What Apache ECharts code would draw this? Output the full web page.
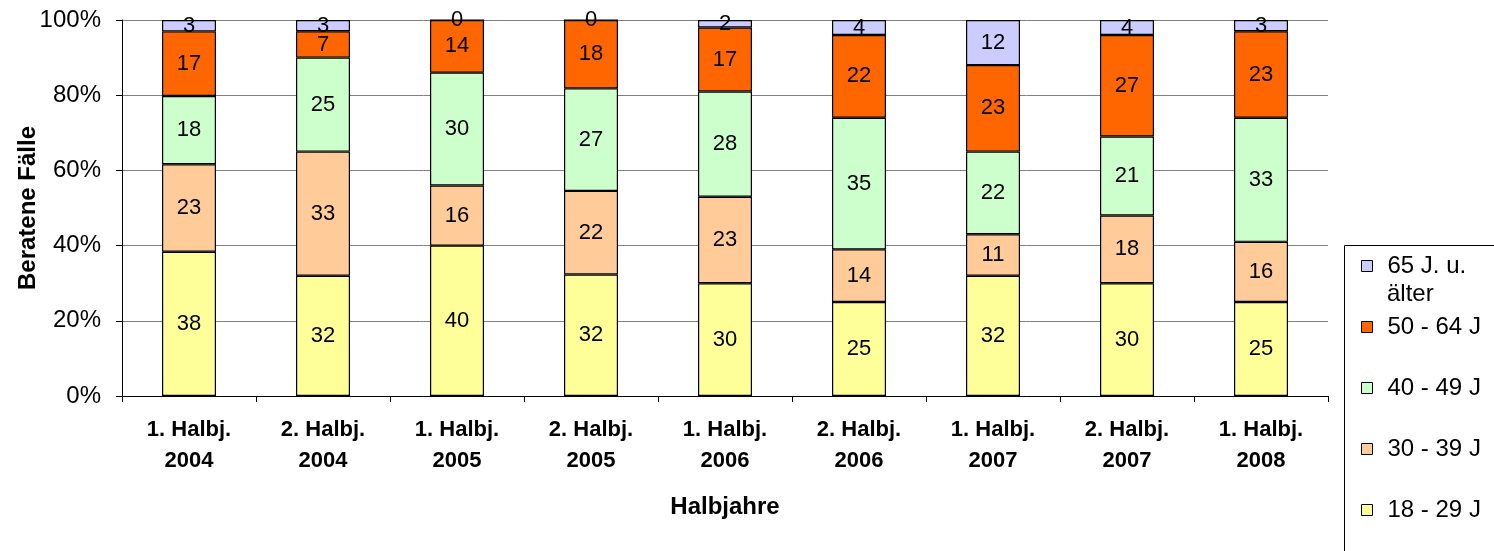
<!DOCTYPE html>
<html>
<head>
<meta charset="utf-8">
<script src="https://cdn.jsdelivr.net/npm/echarts@6/dist/echarts.min.js"></script>
<style>
  html, body { margin: 0; padding: 0; background: #fff; }
  #chart { width: 1494px; height: 551px; }
</style>
</head>
<body>
<div id="chart"></div>
<script>
var chart = echarts.init(document.getElementById('chart'));

// half years on the x axis
var categories = ['1. Halbj.\n2004', '2. Halbj.\n2004', '1. Halbj.\n2005', '2. Halbj.\n2005',
    '1. Halbj.\n2006', '2. Halbj.\n2006', '1. Halbj.\n2007', '2. Halbj.\n2007', '1. Halbj.\n2008'];

// counselled cases per age group (values as printed in the bars)
var age18to29 = [38, 32, 40, 32, 30, 25, 32, 30, 25];
var age30to39 = [23, 33, 16, 22, 23, 14, 11, 18, 16];
var age40to49 = [18, 25, 30, 27, 28, 35, 22, 21, 33];
var age50to64 = [17, 7, 14, 18, 17, 22, 23, 27, 23];
var age65plus = [3, 3, 0, 0, 2, 4, 12, 4, 3];

var groupNames = ['18 - 29 J', '30 - 39 J', '40 - 49 J', '50 - 64 J', '65 J. u. älter'];
var groupColors = ['#FFFF99', '#FFCC99', '#CCFFCC', '#FF6600', '#CCCCFF'];
var groups = [age18to29, age30to39, age40to49, age50to64, age65plus];

var yTicks = [0, 20, 40, 60, 80, 100];

var font = 'Liberation Sans, Arial, sans-serif';

// 100% stacking: share of each column total
var totals = categories.map(function (c, i) {
    return groups.reduce(function (s, g) { return s + g[i]; }, 0);
});

var series = groups.map(function (vals, k) {
    return {
        name: groupNames[k],
        type: 'bar',
        stack: 'all',
        barWidth: 54,
        data: vals.map(function (v, i) { return v / totals[i] * 100; }),
        itemStyle: { color: groupColors[k], borderColor: '#000', borderWidth: 1.2 },
        label: {
            show: true,
            position: 'inside',
            color: '#000',
            fontFamily: font,
            fontSize: 22,
            textBorderWidth: 0,
            formatter: function (p) { return String(groups[k][p.dataIndex]); }
        },
        emphasis: { disabled: true }
    };
});

var option = {
    animation: false,
    grid: { left: 122, right: 166, top: 20, bottom: 155, outerBoundsMode: 'none' },
    xAxis: {
        type: 'category',
        data: categories,
        name: 'Halbjahre',
        nameLocation: 'middle',
        nameGap: 99,
        nameTextStyle: { fontFamily: font, fontSize: 24, fontWeight: 'bold', color: '#000' },
        axisLine: { lineStyle: { color: '#000', width: 1 } },
        axisTick: { show: true, length: 6, lineStyle: { color: '#000' } },
        axisLabel: {
            interval: 0,
            margin: 18,
            fontFamily: font,
            fontSize: 22,
            fontWeight: 'bold',
            lineHeight: 31,
            color: '#000'
        }
    },
    yAxis: {
        type: 'value',
        min: yTicks[0],
        max: yTicks[yTicks.length - 1],
        interval: 20,
        axisLine: { show: true, lineStyle: { color: '#000', width: 1 } },
        axisTick: { show: true, length: 6, lineStyle: { color: '#000' } },
        splitLine: { lineStyle: { color: '#808080', width: 1 } },
        axisLabel: {
            margin: 21,
            fontFamily: font,
            fontSize: 24,
            color: '#000',
            formatter: '{value}%'
        }
    },
    legend: {
        orient: 'vertical',
        left: 1361,
        top: 253,
        padding: 0,
        itemWidth: 11,
        itemHeight: 11,
        itemGap: 35,
        icon: 'rect',
        data: groupNames.slice().reverse(),
        formatter: function (name) { return name === '65 J. u. älter' ? '65 J. u.' : name; },
        itemStyle: { borderColor: '#000', borderWidth: 1 },
        textStyle: { fontFamily: font, fontSize: 24, lineHeight: 26, color: '#000', padding: [0, 0, 0, 10] },
        selectedMode: false
    },
    graphic: [
        {
            // y axis title
            type: 'text',
            x: 28, y: 208,
            rotation: Math.PI / 2,
            style: {
                text: 'Beratene Fälle', fontFamily: font, fontSize: 24, fontWeight: 'bold',
                fill: '#000', align: 'center', verticalAlign: 'middle'
            }
        },
        {
            type: 'rect',
            left: 1342, top: 243,
            shape: { width: 200, height: 320 },
            style: { fill: 'none', stroke: '#000', lineWidth: 1 },
            z: 0
        },
        {
            type: 'text',
            left: 1387, top: 282,
            style: { text: 'älter', fontFamily: font, fontSize: 24, fill: '#000' }
        }
    ],
    series: series
};

chart.setOption(option);
window.onresize = chart.resize;
</script>
</body>
</html>
